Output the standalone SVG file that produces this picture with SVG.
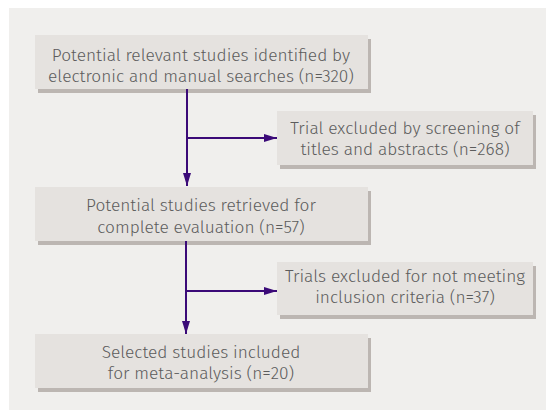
<svg xmlns="http://www.w3.org/2000/svg" width="546" height="411" viewBox="0 0 546 411">
<style>
.box{fill:#e5e2df}
.shadow{fill:#bcb6b2}
.t{font-family:"Fira Sans","Open Sans","Liberation Sans",sans-serif;font-size:17.3px;font-weight:300;fill:#5c5c5c;text-anchor:middle}
.c{stroke:#3b0a78;stroke-width:2;fill:none}
</style>
<defs>
<marker id="ah" markerUnits="userSpaceOnUse" markerWidth="14" markerHeight="10" refX="13" refY="5" orient="auto">
<path d="M0,1 L13,5 L0,9 Z" fill="#3b0a78"/>
</marker>
</defs>
<rect x="9" y="8" width="537" height="402" fill="#f0efed"/>
<g id="n1">
<rect class="shadow" x="38" y="39" width="333" height="54"/>
<rect class="box" x="35" y="35" width="333" height="54"/>
<text class="t" x="201" y="61">Potential relevant studies identified by</text>
<text class="t" x="201" y="82">electronic and manual searches (n=320)</text>
</g>
<g id="n2">
<rect class="shadow" x="280" y="115" width="256" height="54"/>
<rect class="box" x="277" y="111" width="256" height="54"/>
<text class="t" x="405" y="134">Trial excluded by screening of</text>
<text class="t" x="405" y="155">titles and abstracts (n=268)</text>
</g>
<g id="n3">
<rect class="shadow" x="38" y="191" width="333" height="54"/>
<rect class="box" x="35" y="187" width="333" height="54"/>
<text class="t" x="201" y="211">Potential studies retrieved for</text>
<text class="t" x="201" y="233">complete evaluation (n=57)</text>
</g>
<g id="n4">
<rect class="shadow" x="280" y="266" width="256" height="53"/>
<rect class="box" x="277" y="262" width="256" height="53"/>
<text class="t" x="405" y="282">Trials excluded for not meeting</text>
<text class="t" x="405" y="303">inclusion criteria (n=37)</text>
</g>
<g id="n5">
<rect class="shadow" x="38" y="338" width="333" height="54"/>
<rect class="box" x="35" y="334" width="333" height="54"/>
<text class="t" x="201" y="358">Selected studies included</text>
<text class="t" x="201" y="379">for meta-analysis (n=20)</text>
</g>
<g id="connectors">
<path class="c" d="M187,89 V186" marker-end="url(#ah)"/>
<path class="c" d="M187,138 H277" marker-end="url(#ah)"/>
<path class="c" d="M186,241 V334" marker-end="url(#ah)"/>
<path class="c" d="M186,291 H277" marker-end="url(#ah)"/>
</g>
</svg>
